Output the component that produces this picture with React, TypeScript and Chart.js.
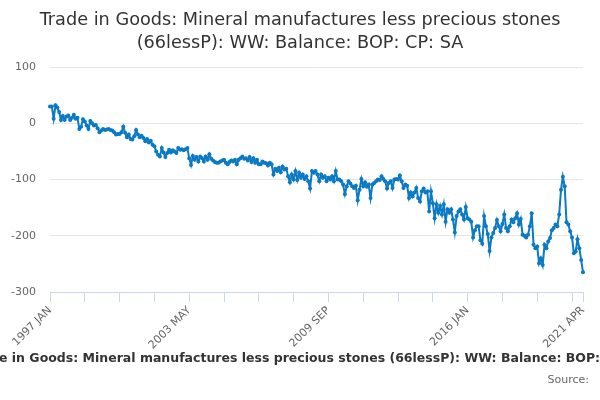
import { useEffect, useRef } from "react";
import { Chart, registerables } from "chart.js";

Chart.register(...registerables);

const TITLE_LINES = [
  "Trade in Goods: Mineral manufactures less precious stones",
  "(66lessP): WW: Balance: BOP: CP: SA",
];
const SERIES_NAME =
  "Trade in Goods: Mineral manufactures less precious stones (66lessP): WW: Balance: BOP: CP: SA";
const SOURCE_TEXT = "Source:";

const START_YEAR = 1997;
const MONTHS = ["JAN", "FEB", "MAR", "APR", "MAY", "JUN", "JUL", "AUG", "SEP", "OCT", "NOV", "DEC"];

// 1997 JAN - 1998 APR
const valuesA = [30, 30, 8, 32, 28, 20, 6, 13, 6, 12, 14, 6, 10, 15, 8, 10];
// 1998 MAY - 2003 OCT
const valuesB = [
  -10, -6, 7, 3, -4, -10, 4, 0, -4, -3, -9, -16, -13, -10, -12, -11, -10, -12, -13, -16,
  -20, -19, -19, -16, -6, -17, -25, -20, -28, -29, -23, -12, -20, -25, -22, -26, -32, -28, -34, -31,
  -38, -41, -50, -56, -59, -44, -52, -60, -53, -47, -52, -48, -50, -53, -44, -47, -46, -48, -46, -44,
  -62, -74, -58, -65, -60, -68,
];
// 2003 NOV - 2011 DEC
const valuesC = [
  -59, -62, -68, -59, -65, -55, -63, -66, -69, -70, -70, -68, -66, -65, -70, -73, -69, -66, -68, -65,
  -73, -65, -62, -59, -63, -62, -66, -60, -69, -62, -70, -65, -73, -73, -68, -70, -71, -75, -70, -73,
  -91, -81, -85, -79, -87, -77, -82, -81, -94, -105, -91, -100, -85, -101, -88, -97, -91, -99, -94, -103,
  -116, -85, -88, -85, -91, -103, -91, -97, -94, -103, -97, -100, -94, -103, -85, -100, -100, -103, -109, -126,
  -112, -103, -107, -112, -115, -111, -137, -118, -99, -112, -105, -113, -109, -133, -109, -106, -103, -100,
];
// 2012 JAN - 2021 APR
const valuesD = [
  -101, -94, -99, -103, -116, -106, -103, -115, -100, -99, -100, -93, -103, -115, -109, -111, -133, -123, -130, -123,
  -115, -133, -139, -121, -116, -123, -121, -157, -121, -142, -169, -144, -159, -147, -162, -144, -175, -153, -159, -153,
  -171, -194, -165, -157, -153, -162, -171, -149, -169, -171, -175, -203, -190, -183, -183, -208, -214, -165, -183, -197,
  -227, -203, -195, -186, -172, -183, -192, -179, -162, -186, -192, -183, -171, -176, -169, -160, -180, -170, -198, -200,
  -203, -198, -183, -160, -216, -222, -219, -249, -240, -252, -216, -222, -210, -204, -190, -186, -180, -183, -162, -118,
  -95, -112, -176, -180, -192, -203, -231, -228, -206, -222, -243, -265,
];

const VALUES = [...valuesA, ...valuesB, ...valuesC, ...valuesD];
const CATEGORIES = VALUES.map((_, i) => `${START_YEAR + Math.floor(i / 12)} ${MONTHS[i % 12]}`);
const LABELED_CATEGORIES = ["1997 JAN", "2003 MAY", "2009 SEP", "2016 JAN", "2021 APR"];
const TICK_STEP = 19;

const Y_MIN = -300;
const Y_MAX = 100;
const Y_STEP = 100;

const FONT = '"DejaVu Sans", sans-serif';
const LINE_COLOR = "#0a7ac4";

const textPlugin = {
  id: "chartTexts",
  afterDraw(chart: any) {
    const ctx = chart.ctx as CanvasRenderingContext2D;
    ctx.save();
    ctx.fillStyle = "#333333";
    ctx.font = `17.7px ${FONT}`;
    ctx.textAlign = "center";
    ctx.textBaseline = "middle";
    ctx.fillText(TITLE_LINES[0], 300, 20.5);
    ctx.fillText(TITLE_LINES[1], 300, 43.5);

    ctx.font = `bold 12.5px ${FONT}`;
    ctx.textAlign = "left";
    const hidden = ctx.measureText("Trad").width;
    ctx.fillText(SERIES_NAME, -hidden - 1, 358.5);

    ctx.font = `11px ${FONT}`;
    ctx.fillStyle = "#666666";
    ctx.textAlign = "right";
    ctx.fillText(SOURCE_TEXT, 589, 380.5);
    ctx.restore();
  },
};

export default function App() {
  const canvasRef = useRef<HTMLCanvasElement | null>(null);

  useEffect(() => {
    if (!canvasRef.current) return;
    const tickValues: number[] = [];
    for (let i = 0; i < CATEGORIES.length; i += TICK_STEP) tickValues.push(i);
    if (tickValues[tickValues.length - 1] !== CATEGORIES.length - 1) tickValues.push(CATEGORIES.length - 1);

    const chart = new Chart(canvasRef.current, {
      type: "line",
      data: {
        labels: CATEGORIES,
        datasets: [
          {
            label: SERIES_NAME,
            data: VALUES,
            borderColor: LINE_COLOR,
            backgroundColor: LINE_COLOR,
            borderWidth: 2,
            pointRadius: 2,
            pointBorderWidth: 0,
            pointBackgroundColor: LINE_COLOR,
            tension: 0,
          },
        ],
      },
      options: {
        animation: false,
        responsive: false,
        devicePixelRatio: 1,
        layout: { padding: { top: 67, left: 0, right: 17, bottom: 0 } },
        plugins: {
          legend: { display: false },
          title: { display: false },
          tooltip: { enabled: false },
        },
        scales: {
          x: {
            type: "category",
            offset: false,
            afterBuildTicks: (scale: any) => {
              scale.ticks = tickValues.map((v) => ({ value: v }));
            },
            afterFit: (scale: any) => {
              scale.height = 108;
              scale.paddingLeft = 0;
              scale.paddingRight = 0;
            },
            grid: {
              drawOnChartArea: false,
              drawTicks: true,
              tickLength: 10,
              color: "#ccd6eb",
              lineWidth: 1,
            },
            border: { display: true, color: "#ccd6eb", width: 1 },
            ticks: {
              autoSkip: false,
              minRotation: 45,
              maxRotation: 45,
              padding: 2,
              color: "#666666",
              font: { family: FONT, size: 11 },
              callback: function (this: any, value: any) {
                const lbl = CATEGORIES[value as number];
                return LABELED_CATEGORIES.includes(lbl) ? lbl : "";
              },
            },
          },
          y: {
            min: Y_MIN,
            max: Y_MAX,
            afterFit: (scale: any) => {
              scale.width = 50;
            },
            grid: {
              color: "#e6e6e6",
              lineWidth: 1,
              drawTicks: false,
            },
            border: { display: false },
            ticks: {
              stepSize: Y_STEP,
              padding: 14,
              color: "#666666",
              font: { family: FONT, size: 11 },
            },
          },
        },
      },
      plugins: [textPlugin],
    });
    return () => chart.destroy();
  }, []);

  return (
    <div style={{ position: "absolute", left: 0, top: 0, width: 600, height: 400, background: "#fff" }}>
      <canvas ref={canvasRef} width={600} height={400} />
    </div>
  );
}
